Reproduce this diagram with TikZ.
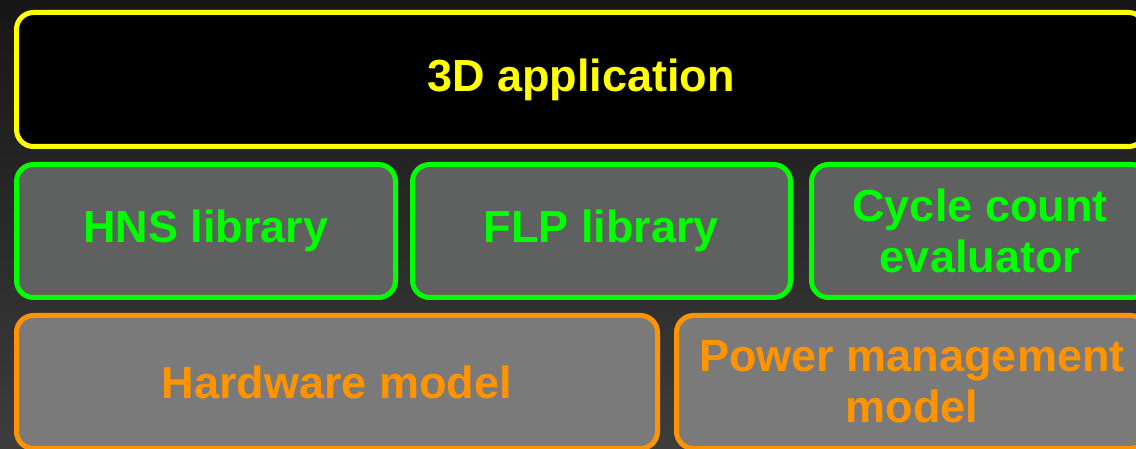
\documentclass[tikz,border=0pt]{standalone}
\usepackage{fontspec}
\setmainfont{Liberation Sans}
\begin{document}
\begin{tikzpicture}[x=1pt,y=-1pt,
  layer/.style={rounded corners=17pt, line width=5pt, inner sep=0pt,
    font=\fontsize{45}{51}\selectfont\bfseries, align=center, anchor=center},
  appbox/.style={layer, draw=appyellow, fill=black, text=appyellow},
  libbox/.style={layer, draw=libgreen, fill=libfill, text=libgreen},
  hwbox/.style={layer, draw=hworange, fill=hwfill, text=hworange}]
  \definecolor{appyellow}{HTML}{FFFF00}
  \definecolor{libgreen}{HTML}{00FF00}
  \definecolor{libfill}{HTML}{5F6160}
  \definecolor{hworange}{HTML}{FF9400}
  \definecolor{hwfill}{HTML}{7A7A7A}
  \definecolor{bgtop}{HTML}{161616}
  \definecolor{bgbottom}{HTML}{3D3D3D}
  % canvas
  \useasboundingbox (0,0) rectangle (1136,449);
  \clip (0,0) rectangle (1136,449);
  \shade[top color=bgtop, bottom color=bgbottom] (0,0) rectangle (1136,449);
  % top layer
  \node[appbox, minimum width=1129pt, minimum height=134pt] (app) at (581,79.5) {3D application};
  % libraries
  \node[libbox, minimum width=379pt, minimum height=133pt] (hns) at (206,231) {HNS library};
  \node[libbox, minimum width=378pt, minimum height=133pt] (flp) at (601.5,231) {FLP library};
  \node[libbox, minimum width=337pt, minimum height=133pt] (cce) at (980,231) {Cycle count\\evaluator};
  % models
  \node[hwbox, minimum width=641pt, minimum height=133pt] (hw) at (337,382) {Hardware model};
  \node[hwbox, minimum width=471pt, minimum height=133pt] (pm) at (912,382) {Power management\\model};
\end{tikzpicture}
\end{document}
